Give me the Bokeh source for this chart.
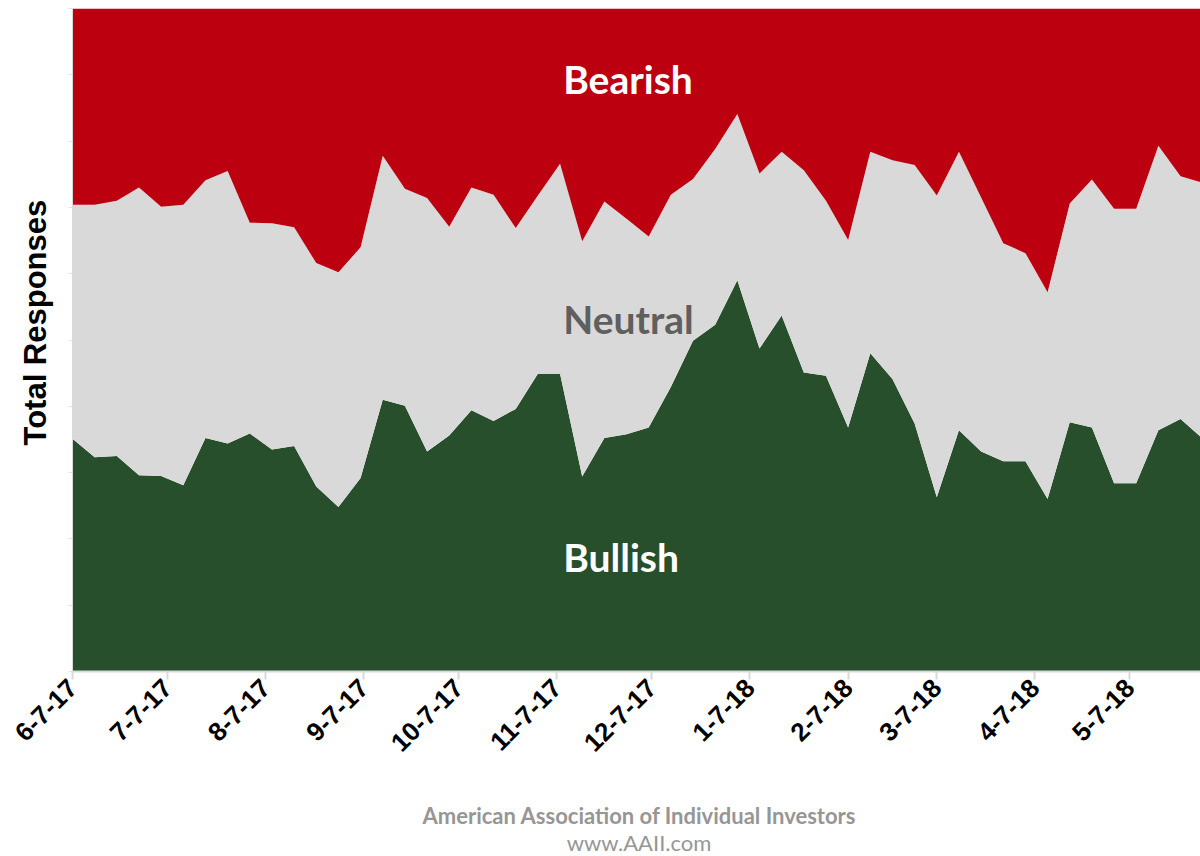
import math
import pandas as pd
from bokeh.plotting import figure
from bokeh.models import ColumnDataSource, Label, FixedTicker, Div, Title
from bokeh.layouts import column
from bokeh.embed import file_html
from bokeh.resources import INLINE

# ---------------- data (weekly AAII sentiment, %) ----------------
start_date = "2017-06-07"
bullish = [35.1, 32.3, 32.5, 29.6, 29.5, 28.1, 35.2, 34.4, 35.9, 33.5,
           34.0, 27.9, 24.8, 29.2, 41.0, 40.1, 33.2, 35.6, 39.4, 37.8,
           39.6, 44.9, 44.9, 29.4, 35.2, 35.8, 36.8, 42.9, 49.9, 52.3,
           59.0, 48.7, 53.7, 45.1, 44.6, 36.8, 48.0, 44.1, 37.4, 26.3,
           36.4, 33.2, 31.7, 31.7, 26.0, 37.6, 36.8, 28.4, 28.4, 36.4,
           38.1, 35.1]
neutral = [35.3, 38.1, 38.5, 43.4, 40.6, 42.3, 38.9, 41.1, 31.8, 34.1,
           33.0, 33.7, 35.4, 34.8, 36.8, 32.7, 38.2, 31.5, 33.6, 34.1,
           27.3, 26.9, 31.7, 35.5, 35.7, 32.5, 28.8, 29.0, 24.4, 26.5,
           25.1, 26.4, 24.7, 30.5, 26.4, 28.3, 30.4, 33.0, 39.0, 45.5,
           42.0, 38.3, 32.9, 31.4, 31.2, 33.0, 37.4, 41.4, 41.4, 42.9,
           36.6, 38.6]
bearish = [29.6, 29.6, 29.0, 27.0, 29.9, 29.6, 25.9, 24.5, 32.3, 32.4,
           33.0, 38.4, 39.8, 36.0, 22.2, 27.2, 28.6, 32.9, 27.0, 28.1,
           33.1, 28.2, 23.4, 35.1, 29.1, 31.7, 34.4, 28.1, 25.7, 21.2,
           15.9, 24.9, 21.6, 24.4, 29.0, 34.9, 21.6, 22.9, 23.6, 28.2,
           21.6, 28.5, 35.4, 36.9, 42.8, 29.4, 25.8, 30.2, 30.2, 20.7,
           25.3, 26.3]
series_names = ["Bullish", "Neutral", "Bearish"]
tick_dates = ["2017-06-07", "2017-07-07", "2017-08-07", "2017-09-07",
              "2017-10-07", "2017-11-07", "2017-12-07", "2018-01-07",
              "2018-02-07", "2018-03-07", "2018-04-07", "2018-05-07"]
tick_labels = ["6-7-17", "7-7-17", "8-7-17", "9-7-17", "10-7-17", "11-7-17",
               "12-7-17", "1-7-18", "2-7-18", "3-7-18", "4-7-18", "5-7-18"]
y_ticks = [0, 10, 20, 30, 40, 50, 60, 70, 80, 90, 100]

# ---------------- derived ----------------
t0 = pd.Timestamp(start_date)
dates = pd.date_range(start_date, periods=len(bullish), freq="7D")
xs = [(d - t0).days for d in dates]
tick_x = [(pd.Timestamp(d) - t0).days for d in tick_dates]

source = ColumnDataSource(dict(x=xs, bull=bullish, neut=neutral, bear=bearish))

RED = "#bd0010"
GREY = "#d9d9d9"
GREEN = "#274f2b"
AXIS_GREY = "#d9d9d9"

p = figure(width=1200, height=798, x_range=(0, 356.3), y_range=(0, 100),
           output_backend="svg", toolbar_location=None,
           min_border_left=72, min_border_right=0, min_border_top=8,
           min_border_bottom=127)
p.outline_line_color = None
p.xgrid.visible = False
p.ygrid.visible = False
p.background_fill_color = "white"

p.varea_stack(stackers=["bull", "neut", "bear"], x="x",
              color=[GREEN, GREY, RED], source=source)

# x axis
xa = p.xaxis[0]
xa.ticker = FixedTicker(ticks=tick_x)
xa.major_label_overrides = {tx: lb for tx, lb in zip(tick_x, tick_labels)}
xa.major_label_orientation = math.pi / 4
xa.major_label_text_font = "Liberation Sans"
xa.major_label_text_font_style = "bold"
xa.major_label_text_font_size = "26px"
xa.major_label_text_color = "black"
xa.major_label_standoff = 4
xa.axis_line_color = AXIS_GREY
xa.axis_line_width = 2
xa.major_tick_line_color = AXIS_GREY
xa.major_tick_line_width = 2
xa.major_tick_out = 8
xa.major_tick_in = 0
xa.minor_tick_line_color = None

# y axis: only faint tick marks, no tick labels
ya = p.yaxis[0]
ya.ticker = FixedTicker(ticks=[], minor_ticks=y_ticks)
ya.axis_line_color = AXIS_GREY
ya.minor_tick_line_color = "#e2e2e2"
ya.minor_tick_out = 4
ya.minor_tick_in = 0
ya.major_tick_out = 4
ya.major_tick_in = 0

# vertical axis title
p.add_layout(Title(text="Total Responses", align="left", offset=226,
                   standoff=31, text_font="Liberation Sans",
                   text_font_style="bold", text_font_size="31px",
                   text_color="black"), "left")

# series labels
label_x = 155
for txt, yv, col in [("Bearish", 89.4, "white"), ("Neutral", 53.2, "#5f5f5f"),
                     ("Bullish", 17.3, "white")]:
    p.add_layout(Label(x=label_x, y=yv, text=txt, text_font="Lato",
                       text_font_style="bold", text_font_size="39px",
                       text_color=col, text_align="left",
                       text_baseline="middle"))

footer = Div(
    text=('<div style="width:1200px;text-align:center;font-family:Lato;'
          'color:#969696;margin-top:2px;">'
          '<div style="padding-left:68px;font-weight:bold;font-size:22px;line-height:22px;">'
          'American Association of Individual Investors</div>'
          '<div style="padding-left:68px;font-size:22px;line-height:22px;margin-top:5px;">'
          'www.AAII.com</div></div>'),
    width=1200, height=58)

layout = column(p, footer, spacing=0)
open("out.html", "w").write(file_html(layout, INLINE))
